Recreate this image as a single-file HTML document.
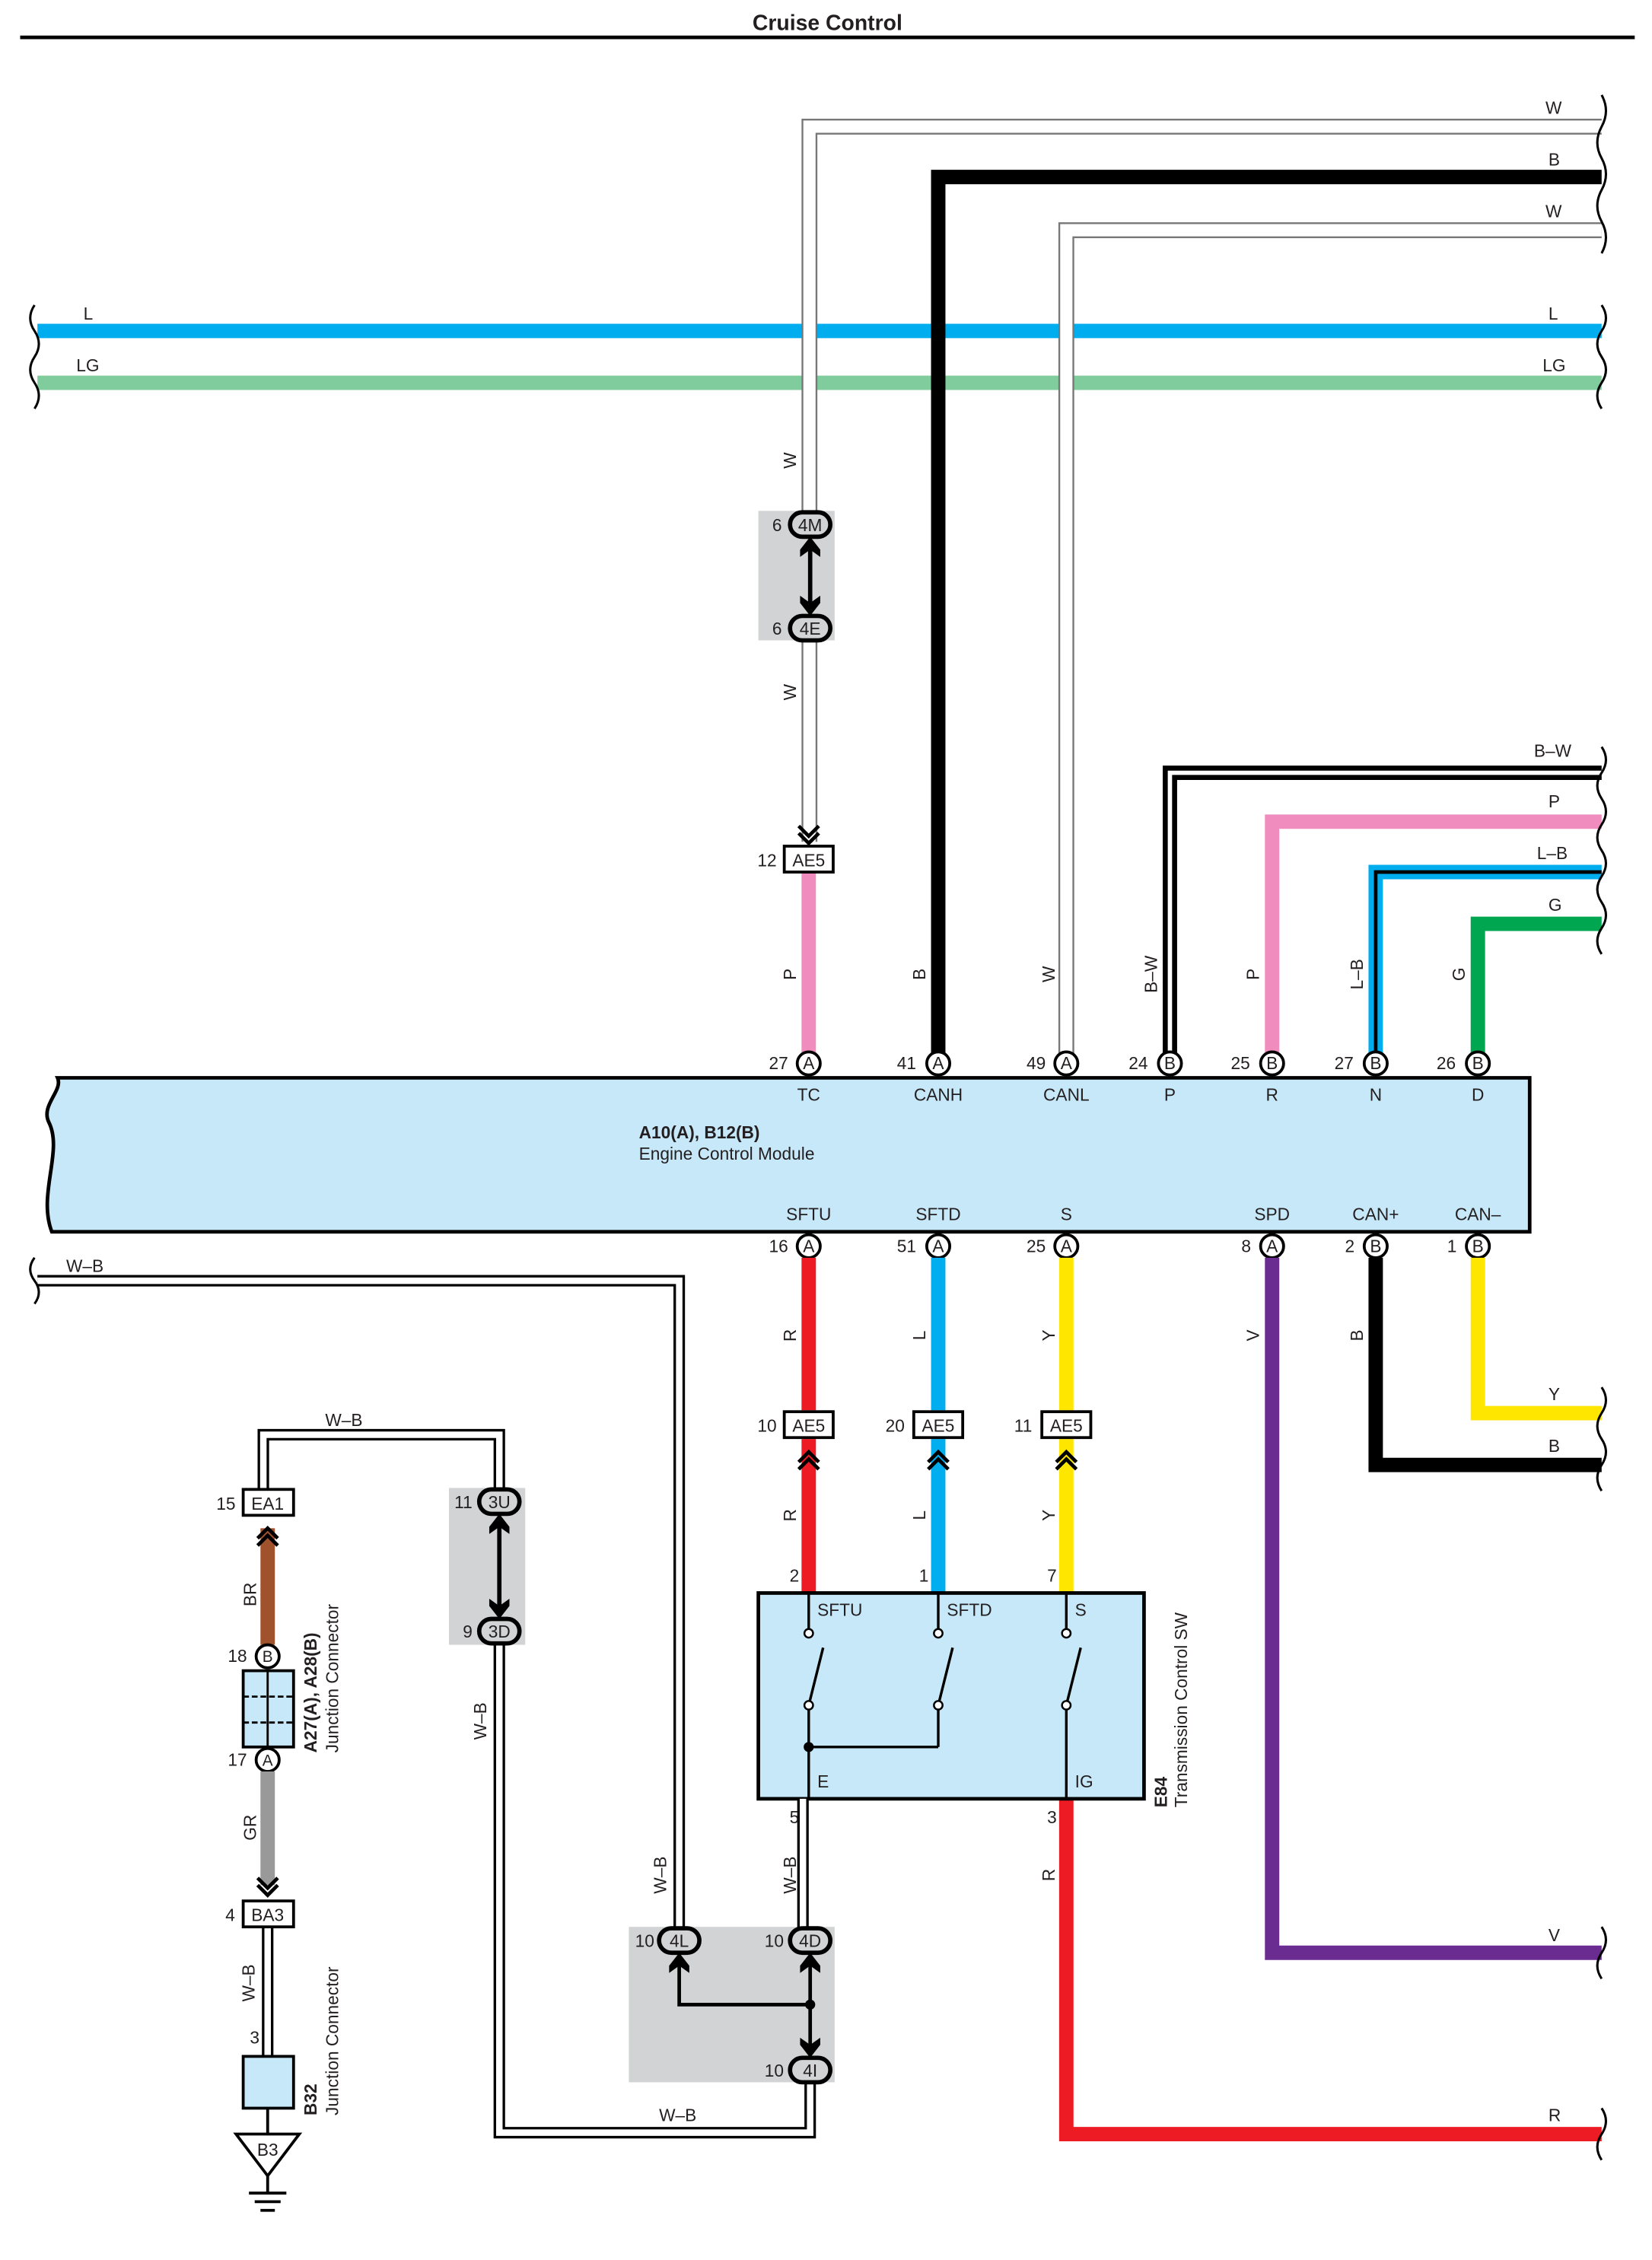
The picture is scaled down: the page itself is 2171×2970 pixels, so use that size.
<!DOCTYPE html>
<html><head><meta charset="utf-8"><style>
html,body{margin:0;padding:0;background:#fff}
svg{display:block}
text{font-family:"Liberation Sans",Arial,sans-serif;font-size:12px;fill:#231f20}
</style></head><body>
<svg width="2171" height="2970" viewBox="0 0 1148 1570.5" xmlns="http://www.w3.org/2000/svg">
<defs>
<g id="chevD"><polyline points="-7,-10 0,-3 7,-10" fill="none" stroke="#000" stroke-width="2.5"/><polyline points="-7,-5 0,2 7,-5" fill="none" stroke="#000" stroke-width="2.5"/></g>
<g id="chevU"><polyline points="-7,10 0,3 7,10" fill="none" stroke="#000" stroke-width="2.5"/><polyline points="-7,5 0,-2 7,5" fill="none" stroke="#000" stroke-width="2.5"/></g>
<path id="ahU" d="M0,0 L7,9 L7,14 L0,9 L-7,14 L-7,9 Z" fill="#000"/>
<path id="ahD" d="M0,0 L7,-9 L7,-14 L0,-9 L-7,-14 L-7,-9 Z" fill="#000"/>
</defs>
<text x="575" y="21" text-anchor="middle" font-weight="bold" style="font-size:15px">Cruise Control</text>
<line x1="14" y1="26" x2="1136" y2="26" stroke="#000" stroke-width="2.5"/>

<line x1="26" y1="230" x2="1113" y2="230" stroke="#00AEEF" stroke-width="10"/>
<line x1="26" y1="266" x2="1113" y2="266" stroke="#80CC9C" stroke-width="10"/>
<text x="58" y="222">L</text><text x="1076" y="222">L</text>
<text x="53" y="258">LG</text><text x="1072" y="258">LG</text>

<path d="M562.5,360 V88 H1113" fill="none" stroke="#777" stroke-width="11"/>
<path d="M562.5,360 V88 H1113" fill="none" stroke="#fff" stroke-width="8.5"/>
<path d="M562.5,445 V585" fill="none" stroke="#777" stroke-width="11"/>
<path d="M562.5,445 V585" fill="none" stroke="#fff" stroke-width="8.5"/>
<text x="1074" y="79">W</text>
<path d="M652,738 V123 H1113" fill="none" stroke="#000" stroke-width="10"/>
<text x="1076" y="115">B</text>
<path d="M741,738 V160 H1113" fill="none" stroke="#777" stroke-width="11"/>
<path d="M741,738 V160 H1113" fill="none" stroke="#fff" stroke-width="8.5"/>
<text x="1074" y="151">W</text>

<rect x="527" y="355" width="53" height="90" fill="#d1d3d4"/>
<line x1="563" y1="375" x2="563" y2="426" stroke="#000" stroke-width="3"/>
<use href="#ahU" x="563" y="373"/><use href="#ahD" x="563" y="428"/>
<rect x="549" y="356" width="28" height="17" rx="8.5" fill="#d1d3d4" stroke="#000" stroke-width="3"/><text x="563" y="369" text-anchor="middle">4M</text>
<rect x="549" y="428" width="28" height="17" rx="8.5" fill="#d1d3d4" stroke="#000" stroke-width="3"/><text x="563" y="441" text-anchor="middle">4E</text>
<text x="540" y="369" text-anchor="middle">6</text><text x="540" y="441" text-anchor="middle">6</text>
<text transform="translate(553,320) rotate(-90)" text-anchor="middle">W</text>
<text transform="translate(553,481) rotate(-90)" text-anchor="middle">W</text>

<use href="#chevD" x="562" y="584"/>
<line x1="562" y1="606" x2="562" y2="738" stroke="#F08CBE" stroke-width="10"/>
<rect x="545" y="588" width="34" height="18" fill="#fff" stroke="#000" stroke-width="2"/><text x="562" y="602" text-anchor="middle">AE5</text>
<text x="533" y="602" text-anchor="middle">12</text>

<path d="M813,738 V537 H1113" fill="none" stroke="#000" stroke-width="10"/>
<path d="M813,738 V537 H1113" fill="none" stroke="#fff" stroke-width="3"/>
<text x="1066" y="526">B–W</text>
<path d="M884,738 V571 H1113" fill="none" stroke="#F08CBE" stroke-width="10"/>
<text x="1076" y="561">P</text>
<path d="M956,738 V606 H1113" fill="none" stroke="#00AEEF" stroke-width="10"/>
<path d="M956,738 V606 H1113" fill="none" stroke="#000" stroke-width="2.5"/>
<text x="1068" y="597">L–B</text>
<path d="M1027,738 V642 H1113" fill="none" stroke="#00A650" stroke-width="10"/>
<text x="1076" y="633">G</text>
<g text-anchor="middle">
<text transform="translate(553,677) rotate(-90)">P</text>
<text transform="translate(643,677) rotate(-90)">B</text>
<text transform="translate(733,677) rotate(-90)">W</text>
<text transform="translate(804,677) rotate(-90)">B–W</text>
<text transform="translate(875,677) rotate(-90)">P</text>
<text transform="translate(947,677) rotate(-90)">L–B</text>
<text transform="translate(1018,677) rotate(-90)">G</text>
</g>

<path d="M40,749 H1063 V856 H36 C26,830 44,800 34,780 C28,768 44,758 40,749 Z" fill="#C7E8F8" stroke="#000" stroke-width="2.5"/>
<text x="444" y="791" font-weight="bold">A10(A), B12(B)</text>
<text x="444" y="806">Engine Control Module</text>
<g text-anchor="middle">
<g fill="#fff" stroke="#000" stroke-width="2">
<circle cx="562" cy="739" r="8"/><circle cx="652" cy="739" r="8"/><circle cx="741" cy="739" r="8"/><circle cx="813" cy="739" r="8"/><circle cx="884" cy="739" r="8"/><circle cx="956" cy="739" r="8"/><circle cx="1027" cy="739" r="8"/>
<circle cx="562" cy="866" r="8"/><circle cx="652" cy="866" r="8"/><circle cx="741" cy="866" r="8"/><circle cx="884" cy="866" r="8"/><circle cx="956" cy="866" r="8"/><circle cx="1027" cy="866" r="8"/>
</g>
<g style="font-size:11px">
<text x="562" y="743">A</text><text x="652" y="743">A</text><text x="741" y="743">A</text><text x="813" y="743">B</text><text x="884" y="743">B</text><text x="956" y="743">B</text><text x="1027" y="743">B</text>
<text x="562" y="870">A</text><text x="652" y="870">A</text><text x="741" y="870">A</text><text x="884" y="870">A</text><text x="956" y="870">B</text><text x="1027" y="870">B</text>
</g>
<text x="541" y="743">27</text><text x="630" y="743">41</text><text x="720" y="743">49</text><text x="791" y="743">24</text><text x="862" y="743">25</text><text x="934" y="743">27</text><text x="1005" y="743">26</text>
<text x="541" y="870">16</text><text x="630" y="870">51</text><text x="720" y="870">25</text><text x="866" y="870">8</text><text x="938" y="870">2</text><text x="1009" y="870">1</text>
<text x="562" y="765">TC</text><text x="652" y="765">CANH</text><text x="741" y="765">CANL</text><text x="813" y="765">P</text><text x="884" y="765">R</text><text x="956" y="765">N</text><text x="1027" y="765">D</text>
<text x="562" y="848">SFTU</text><text x="652" y="848">SFTD</text><text x="741" y="848">S</text><text x="884" y="848">SPD</text><text x="956" y="848">CAN+</text><text x="1027" y="848">CAN–</text>
</g>

<line x1="562" y1="874" x2="562" y2="980" stroke="#ED1C24" stroke-width="10"/>
<line x1="652" y1="874" x2="652" y2="980" stroke="#00AEEF" stroke-width="10"/>
<line x1="741" y1="874" x2="741" y2="980" stroke="#FFE600" stroke-width="10"/>
<line x1="562" y1="1000" x2="562" y2="1107" stroke="#ED1C24" stroke-width="10"/>
<line x1="652" y1="1000" x2="652" y2="1107" stroke="#00AEEF" stroke-width="10"/>
<line x1="741" y1="1000" x2="741" y2="1107" stroke="#FFE600" stroke-width="10"/>
<g>
<rect x="545" y="981" width="34" height="18" fill="#fff" stroke="#000" stroke-width="2"/>
<rect x="635" y="981" width="34" height="18" fill="#fff" stroke="#000" stroke-width="2"/>
<rect x="724" y="981" width="34" height="18" fill="#fff" stroke="#000" stroke-width="2"/>
</g>
<use href="#chevU" x="562" y="1011"/><use href="#chevU" x="652" y="1011"/><use href="#chevU" x="741" y="1011"/>
<g text-anchor="middle">
<text x="562" y="995">AE5</text><text x="652" y="995">AE5</text><text x="741" y="995">AE5</text>
<text x="533" y="995">10</text><text x="622" y="995">20</text><text x="711" y="995">11</text>
<text transform="translate(553,928) rotate(-90)">R</text><text transform="translate(643,928) rotate(-90)">L</text><text transform="translate(733,928) rotate(-90)">Y</text>
<text transform="translate(553,1053) rotate(-90)">R</text><text transform="translate(643,1053) rotate(-90)">L</text><text transform="translate(733,1053) rotate(-90)">Y</text>
<text transform="translate(875,928) rotate(-90)">V</text><text transform="translate(947,928) rotate(-90)">B</text>
<text x="552" y="1099">2</text><text x="642" y="1099">1</text><text x="731" y="1099">7</text>
</g>
<path d="M884,874 V1357 H1113" fill="none" stroke="#6B2C91" stroke-width="10"/>
<text x="1076" y="1349">V</text>
<path d="M956,874 V1018 H1113" fill="none" stroke="#000" stroke-width="10"/>
<text x="1076" y="1009">B</text>
<path d="M1027,874 V982 H1113" fill="none" stroke="#FFE600" stroke-width="10"/>
<text x="1076" y="973">Y</text>
<path d="M741,1250 V1483 H1113" fill="none" stroke="#ED1C24" stroke-width="10"/>
<text x="1076" y="1474">R</text>
<text x="731" y="1267" text-anchor="middle">3</text>
<text transform="translate(733,1303) rotate(-90)" text-anchor="middle">R</text>

<rect x="527" y="1107" width="268" height="143" fill="#C7E8F8" stroke="#000" stroke-width="2.5"/>
<g stroke="#000" stroke-width="1.8" fill="none">
<line x1="562" y1="1107" x2="562" y2="1135"/><line x1="562" y1="1185" x2="562" y2="1250"/>
<line x1="652" y1="1107" x2="652" y2="1135"/><line x1="652" y1="1185" x2="652" y2="1214"/>
<line x1="741" y1="1107" x2="741" y2="1135"/><line x1="741" y1="1185" x2="741" y2="1250"/>
<line x1="562" y1="1214" x2="652" y2="1214"/>
<line x1="562" y1="1185" x2="572" y2="1145"/><line x1="652" y1="1185" x2="662" y2="1145"/><line x1="741" y1="1185" x2="751" y2="1145"/>
</g>
<g fill="#fff" stroke="#000" stroke-width="1.3">
<circle cx="562" cy="1135" r="3"/><circle cx="562" cy="1185" r="3"/><circle cx="652" cy="1135" r="3"/><circle cx="652" cy="1185" r="3"/><circle cx="741" cy="1135" r="3"/><circle cx="741" cy="1185" r="3"/>
</g>
<circle cx="562" cy="1214" r="3.5" fill="#000"/>
<text x="568" y="1123">SFTU</text><text x="658" y="1123">SFTD</text><text x="747" y="1123">S</text>
<text x="568" y="1242">E</text><text x="747" y="1242">IG</text>
<text transform="translate(811,1256) rotate(-90)" font-weight="bold">E84</text>
<text transform="translate(825,1256) rotate(-90)">Transmission Control SW</text>

<rect x="437" y="1339" width="143" height="108" fill="#d1d3d4"/>
<rect x="312" y="1034" width="53" height="109" fill="#d1d3d4"/>

<g fill="none" stroke="#000" stroke-width="8">
<path d="M26,890 H472 V1340"/>
<path d="M558,1250 V1340"/>
<path d="M563,1446 V1482 H347 V1142"/>
<path d="M347,1035 V997 H183 V1035"/>
<path d="M186,1339 V1430"/>
</g>
<g fill="none" stroke="#fff" stroke-width="4.5">
<path d="M26,890 H472 V1340"/>
<path d="M558,1250 V1340"/>
<path d="M563,1446 V1482 H347 V1142"/>
<path d="M347,1035 V997 H183 V1035"/>
<path d="M186,1339 V1430"/>
</g>
<text x="46" y="884">W–B</text>
<text x="226" y="991">W–B</text>
<text x="458" y="1474">W–B</text>
<g text-anchor="middle">
<text transform="translate(338,1196) rotate(-90)">W–B</text>
<text transform="translate(463,1303) rotate(-90)">W–B</text>
<text transform="translate(553,1303) rotate(-90)">W–B</text>
<text transform="translate(177,1378) rotate(-90)">W–B</text>
<text x="552" y="1267">5</text>
</g>
<g stroke="#000" stroke-width="2.5" fill="none">
<path d="M472,1360 V1393 H563"/><path d="M563,1360 V1426"/>
</g>
<circle cx="563" cy="1393" r="3.5" fill="#000"/>
<use href="#ahU" x="472" y="1357"/>
<use href="#ahU" x="563" y="1357"/>
<use href="#ahD" x="563" y="1430"/>
<g fill="#d1d3d4" stroke="#000" stroke-width="3">
<rect x="458" y="1340" width="28" height="17" rx="8.5"/><rect x="549" y="1340" width="28" height="17" rx="8.5"/><rect x="549" y="1430" width="28" height="17" rx="8.5"/>
<rect x="333" y="1035" width="28" height="17" rx="8.5"/><rect x="333" y="1125" width="28" height="17" rx="8.5"/>
</g>
<g text-anchor="middle">
<text x="472" y="1353">4L</text><text x="563" y="1353">4D</text><text x="563" y="1443">4I</text>
<text x="448" y="1353">10</text><text x="538" y="1353">10</text><text x="538" y="1443">10</text>
<text x="347" y="1048">3U</text><text x="347" y="1138">3D</text>
<text x="322" y="1048">11</text><text x="325" y="1138">9</text>
</g>
<line x1="347" y1="1056" x2="347" y2="1121" stroke="#000" stroke-width="3"/>
<use href="#ahU" x="347" y="1052"/><use href="#ahD" x="347" y="1125"/>

<rect x="169" y="1035" width="35" height="18" fill="#fff" stroke="#000" stroke-width="2"/>
<text x="186" y="1049" text-anchor="middle">EA1</text><text x="157" y="1049" text-anchor="middle">15</text>
<line x1="186" y1="1062" x2="186" y2="1143" stroke="#A0522D" stroke-width="10"/>
<use href="#chevU" x="186" y="1064"/>
<text transform="translate(178,1108) rotate(-90)" text-anchor="middle">BR</text>
<circle cx="186" cy="1151" r="8" fill="#fff" stroke="#000" stroke-width="2"/><text x="186" y="1155" text-anchor="middle" style="font-size:11px">B</text>
<text x="165" y="1155" text-anchor="middle">18</text>
<rect x="169" y="1161" width="35" height="53" fill="#C7E8F8" stroke="#000" stroke-width="2"/>
<g stroke="#000" stroke-width="1.5" stroke-dasharray="4,2">
<line x1="169" y1="1179" x2="204" y2="1179"/><line x1="169" y1="1197" x2="204" y2="1197"/>
</g>
<line x1="186" y1="1161" x2="186" y2="1214" stroke="#000" stroke-width="1.5"/>
<circle cx="186" cy="1223" r="8" fill="#fff" stroke="#000" stroke-width="2"/><text x="186" y="1227" text-anchor="middle" style="font-size:11px">A</text>
<text x="165" y="1227" text-anchor="middle">17</text>
<text transform="translate(220,1218) rotate(-90)" font-weight="bold">A27(A), A28(B)</text>
<text transform="translate(235,1218) rotate(-90)">Junction Connector</text>
<line x1="186" y1="1231" x2="186" y2="1310" stroke="#999" stroke-width="10"/>
<text transform="translate(178,1270) rotate(-90)" text-anchor="middle">GR</text>
<use href="#chevD" x="186" y="1315"/>
<rect x="169" y="1321" width="35" height="18" fill="#fff" stroke="#000" stroke-width="2"/>
<text x="186" y="1335" text-anchor="middle">BA3</text><text x="160" y="1335" text-anchor="middle">4</text>
<text x="177" y="1420" text-anchor="middle">3</text>
<rect x="169" y="1429" width="35" height="36" fill="#C7E8F8" stroke="#000" stroke-width="2"/>
<line x1="186" y1="1465" x2="186" y2="1483" stroke="#000" stroke-width="2"/>
<text transform="translate(220,1470) rotate(-90)" font-weight="bold">B32</text>
<text transform="translate(235,1470) rotate(-90)">Junction Connector</text>
<polygon points="164,1483 208,1483 186,1512" fill="#fff" stroke="#000" stroke-width="2"/>
<text x="186" y="1498" text-anchor="middle">B3</text>
<g stroke="#000" stroke-width="2">
<line x1="186" y1="1512" x2="186" y2="1524"/><line x1="173" y1="1524" x2="199" y2="1524"/><line x1="177" y1="1530" x2="195" y2="1530"/><line x1="181" y1="1536" x2="191" y2="1536"/>
</g>

<g fill="none" stroke="#000" stroke-width="1.6">
<path d="M24,212 q-6,9 0,18 q6,9 0,18 q-6,9 0,18 q6,9 0,18"/>
<path d="M24,874 q-6,8 0,16 q6,8 0,16"/>
<path d="M1113,66 q6,11 0,22 q-6,11 0,22 q6,11 0,22 q-6,11 0,22 q6,11 0,22"/>
<path d="M1113,212 q6,9 0,18 q-6,9 0,18 q6,9 0,18 q-6,9 0,18"/>
<path d="M1113,519 q6,9 0,18 q-6,9 0,18 q6,9 0,18 q-6,9 0,18 q6,9 0,18 q-6,9 0,18 q6,9 0,18 q-6,9 0,18"/>
<path d="M1113,964 q6,9 0,18 q-6,9 0,18 q6,9 0,18 q-6,9 0,18"/>
<path d="M1113,1339 q6,9 0,18 q-6,9 0,18"/>
<path d="M1113,1465 q6,9 0,18 q-6,9 0,18"/>
</g>
</svg>
</body></html>
